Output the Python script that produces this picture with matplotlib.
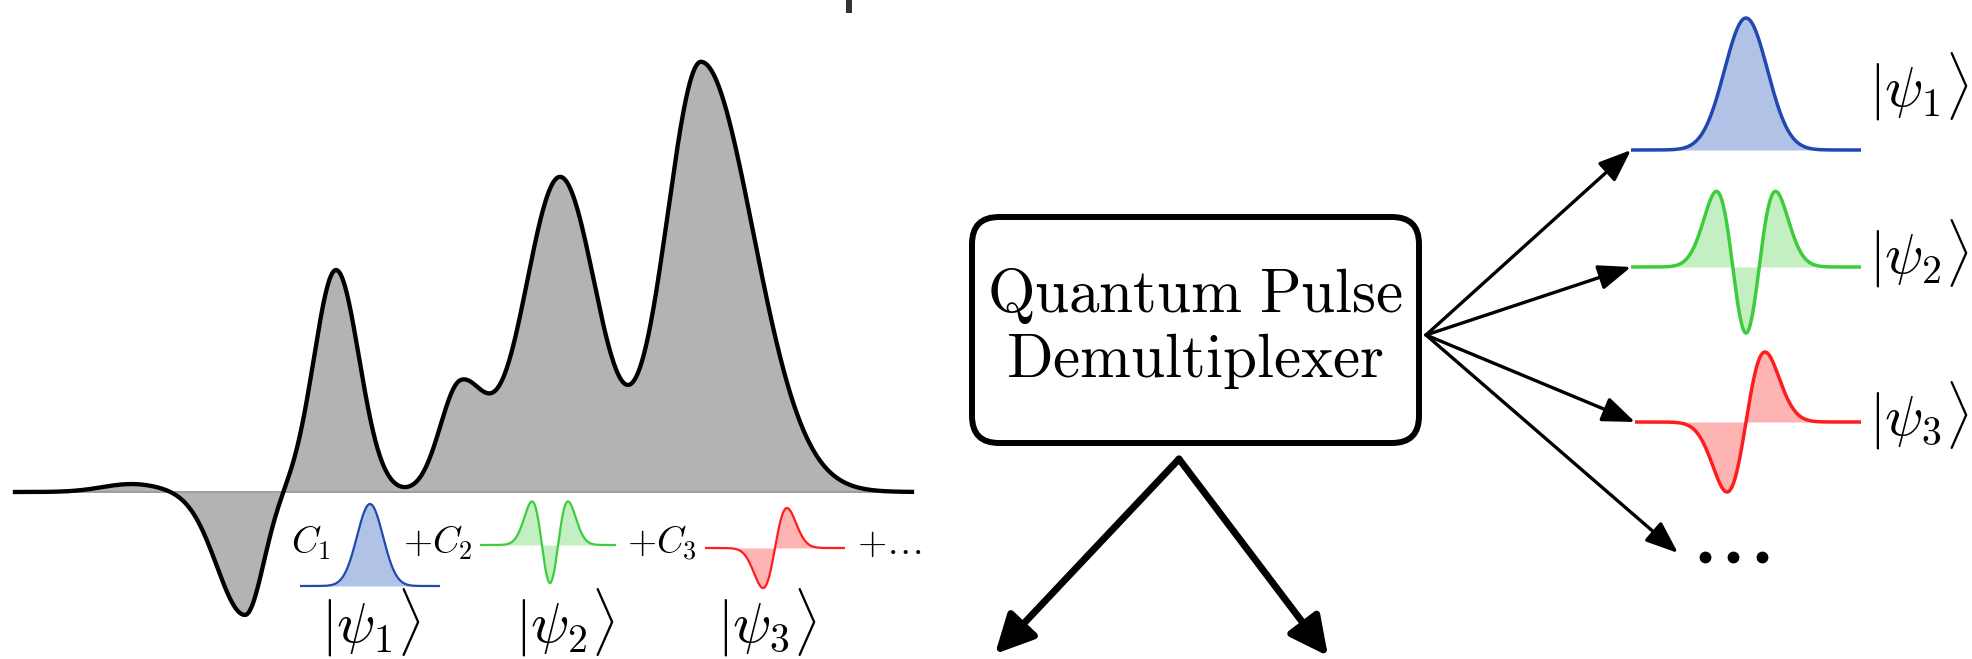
import numpy as np
import matplotlib
matplotlib.use("Agg")
import matplotlib.pyplot as plt
from matplotlib.patches import FancyBboxPatch, Rectangle

plt.rcParams['mathtext.fontset'] = 'cm'

# big input waveform, made of (asymmetric) gaussian bumps, pixel units
wave_centers = [132, 245, 336, 460, 560, 701]
wave_amps = [8, -123, 222, 105, 315, 430]
wave_sig_left = [30, 28, 22, 20, 36, 35]
wave_sig_right = [30, 18, 23, 25, 37, 52]
wave_x_range = (15, 912)
wave_base_y = 492

# pulse modes: order n of the Hermite-Gaussian, colours
mode_orders = [0, 2, 1]
mode_lines = ['#2148b0', '#3ccc3c', '#ff1c1c']
mode_fills = ['#b0c3e6', '#c3efc3', '#ffb4b4']
mode_labels = [r'$|\psi_1\rangle$', r'$|\psi_2\rangle$', r'$|\psi_3\rangle$']

# small pulses in the sum (left): x0, x1, baseline, centre, width, amplitude
small_x0 = [300, 480, 705]
small_x1 = [440, 616, 845]
small_base = [586, 545, 548]
small_centre = [370, 550, 775]
small_sigma = [13, 11.4, 12]
small_amp = [82, 38, 40]
small_label_x = [371, 565, 767]
sum_terms = [r'$C_1$', r'$+C_2$', r'$+C_3$', r'$+\ldots$']
sum_term_x = [311, 438, 662, 889]

# demultiplexed pulses (right)
out_x0 = [1631, 1631, 1635]
out_x1 = [1861, 1861, 1861]
out_base = [150, 267, 422]
out_centre = [1746, 1746, 1746]
out_sigma = [21.5, 18.7, 19]
out_amp = [132, 66, 70]
out_label_y = [87, 254, 416]


def hermite_gauss(u, n):
    g = np.exp(-u ** 2 / 2)
    if n == 0:
        return g
    if n == 1:
        return u * g / 0.6065
    # second order: dip in the middle, two lobes either side
    return (2 * u ** 2 - 1) * g


def draw_pulse(ax, x0, x1, y0, xc, s, amp, n, lc, fc, lw):
    x = np.linspace(x0, x1, 600)
    y = y0 - amp * hermite_gauss((x - xc) / s, n)
    ax.fill_between(x, y, y0, color=fc, lw=0)
    ax.plot(x, y, color=lc, lw=lw, solid_capstyle='butt')


fig = plt.figure(figsize=(19.72, 6.59), dpi=100)
ax = fig.add_axes([0, 0, 1, 1])
ax.set_xlim(0, 1972)
ax.set_ylim(659, 0)
ax.axis('off')

# input waveform
xw = np.linspace(wave_x_range[0], wave_x_range[1], 2000)
hw = np.zeros_like(xw)
for c, a, sl, sr in zip(wave_centers, wave_amps, wave_sig_left, wave_sig_right):
    s = np.where(xw < c, sl, sr)
    hw += a * np.exp(-(xw - c) ** 2 / (2 * s ** 2))
yw = wave_base_y - hw
ax.fill_between(xw, yw, wave_base_y, color='#b3b3b3', lw=0)
ax.plot(wave_x_range, [wave_base_y, wave_base_y], color='#9a9a9a', lw=1.3)
ax.plot(xw, yw, color='k', lw=3.1)

# the sum C1|psi1> + C2|psi2> + ...
for i in range(3):
    draw_pulse(ax, small_x0[i], small_x1[i], small_base[i], small_centre[i],
               small_sigma[i], small_amp[i], mode_orders[i],
               mode_lines[i], mode_fills[i], 1.6)
    ax.text(small_label_x[i], 623, mode_labels[i], fontsize=41,
            ha='center', va='center')
for t, x in zip(sum_terms, sum_term_x):
    ax.text(x, 554, t, fontsize=27, ha='center', va='baseline')

# demultiplexer box
box = FancyBboxPatch((972, 217), 447, 226,
                     boxstyle='round,pad=0,rounding_size=27',
                     fc='white', ec='k', lw=4.3)
ax.add_patch(box)
ax.text(1195, 312, r'$\mathrm{Quantum\ Pulse}$', fontsize=44,
        ha='center', va='baseline')
ax.text(1195, 377, r'$\mathrm{Demultiplexer}$', fontsize=44,
        ha='center', va='baseline')

# output arrows
src = (1426, 335)
tips = [(1631, 150), (1631, 267), (1635, 422), (1678, 553)]
for tip in tips:
    ax.annotate('', xy=tip, xytext=src,
                arrowprops=dict(arrowstyle='-|>,head_length=0.9,head_width=0.35',
                                lw=2.4, color='k', shrinkA=0, shrinkB=0,
                                mutation_scale=22))

for i in range(3):
    draw_pulse(ax, out_x0[i], out_x1[i], out_base[i], out_centre[i],
               out_sigma[i], out_amp[i], mode_orders[i],
               mode_lines[i], mode_fills[i], 2.5)
    ax.text(1869, out_label_y[i], mode_labels[i], fontsize=41,
            ha='left', va='center')

ax.plot([1705, 1733, 1762], [557, 557, 557], 'o', color='k', ms=7.5)

# arrows out of the bottom of the box
apex = (1179, 459)
for tip in [(995, 654), (1328, 656)]:
    ax.annotate('', xy=tip, xytext=apex,
                arrowprops=dict(arrowstyle='-|>,head_length=0.9,head_width=0.45',
                                lw=5, color='k', shrinkA=0, shrinkB=0,
                                mutation_scale=26))

# cut-off glyph at the top edge
ax.add_patch(Rectangle((846, 0), 6, 13, color='#333333', lw=0))

fig.savefig('out.png', dpi=100)
